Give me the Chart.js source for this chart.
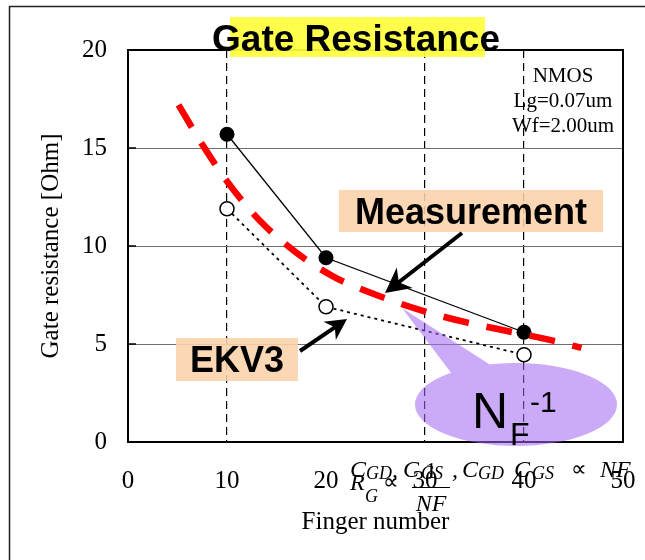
<!DOCTYPE html>
<html>
<head>
<meta charset="utf-8">
<script src="https://cdn.jsdelivr.net/npm/chart.js@4.4.0/dist/chart.umd.min.js"></script>
<style>
  html, body { margin: 0; padding: 0; background: #fff; }
  #wrap { width: 645px; height: 560px; }
</style>
</head>
<body>
<div id="wrap"><canvas id="grafico" width="645" height="560"></canvas></div>
<script>
// datos
const dedos = [10, 20, 40];
const medicion = [15.7, 9.4, 5.6];
const ekv3 = [11.9, 6.9, 4.45];
const curvaX = [5.1, 7.6, 10.3, 13.3, 16.9, 20.9, 25.1, 29.7, 34.2, 38.9, 43.5, 45.8];
const curvaY = [17.2, 15.1, 13.1, 11.3, 9.7, 8.4, 7.5, 6.7, 6.1, 5.6, 5.1, 4.8];
const ticksX = [0, 10, 20, 30, 40, 50];
const ticksY = [0, 5, 10, 15, 20];

const SERIF = '"Liberation Serif", "Times New Roman", serif';
const SANS = '"Liberation Sans", Arial, sans-serif';

function flecha(ctx, x1, y1, x2, y2, grosor, largo, ancho) {
  const a = Math.atan2(y2 - y1, x2 - x1);
  const ux = Math.cos(a), uy = Math.sin(a);
  const nx = -uy, ny = ux;
  ctx.strokeStyle = "#000";
  ctx.fillStyle = "#000";
  ctx.lineWidth = grosor;
  ctx.beginPath();
  ctx.moveTo(x1, y1);
  ctx.lineTo(x2 - ux * largo * 0.6, y2 - uy * largo * 0.6);
  ctx.stroke();
  ctx.beginPath();
  ctx.moveTo(x2, y2);
  ctx.lineTo(x2 - ux * largo + nx * ancho, y2 - uy * largo + ny * ancho);
  ctx.lineTo(x2 - ux * largo * 0.7, y2 - uy * largo * 0.7);
  ctx.lineTo(x2 - ux * largo - nx * ancho, y2 - uy * largo - ny * ancho);
  ctx.closePath();
  ctx.fill();
}

function texto(ctx, t, x, y, fuente, align) {
  ctx.font = fuente;
  ctx.textAlign = align || "left";
  ctx.textBaseline = "alphabetic";
  ctx.fillStyle = "#000";
  ctx.fillText(t, x, y);
}

const decoracion = {
  id: "decoracion",
  afterDraw(chart) {
    const ctx = chart.ctx;
    const area = chart.chartArea;
    const sy = chart.scales.y;
    ctx.save();

    // marco exterior
    ctx.strokeStyle = "#222";
    ctx.lineWidth = 1.5;
    ctx.beginPath();
    ctx.moveTo(9.5, 560);
    ctx.lineTo(9.5, 6.5);
    ctx.lineTo(645, 6.5);
    ctx.stroke();

    // borde del area
    ctx.strokeStyle = "#000";
    ctx.lineWidth = 2;
    ctx.strokeRect(area.left, area.top, area.right - area.left, area.bottom - area.top);
    ctx.lineWidth = 1.5;
    ticksY.forEach(v => {
      const y = sy.getPixelForValue(v);
      ctx.beginPath();
      ctx.moveTo(area.left, y);
      ctx.lineTo(area.left + 8, y);
      ctx.stroke();
    });

    // titulo
    ctx.fillStyle = "rgba(255, 255, 60, 0.92)";
    ctx.fillRect(230, 17, 255, 40);
    texto(ctx, "Gate Resistance", 356, 51, "bold 37px " + SANS, "center");

    // condiciones
    texto(ctx, "NMOS", 563, 82, "21px " + SERIF, "center");
    texto(ctx, "Lg=0.07um", 563, 107, "21px " + SERIF, "center");
    texto(ctx, "Wf=2.00um", 563, 132, "21px " + SERIF, "center");

    // etiqueta Measurement
    ctx.fillStyle = "rgba(251, 210, 168, 0.88)";
    ctx.fillRect(339, 190, 264, 42);
    texto(ctx, "Measurement", 471, 224, "bold 36px " + SANS, "center");
    flecha(ctx, 462, 233, 385, 293, 4, 25, 13);

    // etiqueta EKV3
    ctx.fillStyle = "rgba(251, 210, 168, 0.88)";
    ctx.fillRect(176, 338, 122, 43);
    texto(ctx, "EKV3", 237, 372, "bold 36px " + SANS, "center");
    flecha(ctx, 300, 351, 347, 319, 4, 21, 11);

    // globo NF^-1
    ctx.fillStyle = "rgba(160, 100, 240, 0.55)";
    ctx.beginPath();
    ctx.ellipse(516, 404.5, 101, 41.5, 0, 0, Math.PI * 2);
    ctx.moveTo(402, 308);
    ctx.lineTo(492, 366);
    ctx.lineTo(452, 374);
    ctx.closePath();
    ctx.fill("nonzero");
    texto(ctx, "N", 472, 428, "50px " + SANS);
    texto(ctx, "F", 510, 445, "32px " + SANS);
    texto(ctx, "-1", 530, 412, "30px " + SANS);

    // ecuaciones superpuestas
    const it = "italic 24px " + SERIF;
    const sub = "italic 18px " + SERIF;
    texto(ctx, "C", 350, 477, it);
    texto(ctx, "GD", 366, 479, sub);
    texto(ctx, ",", 392, 477, it);
    texto(ctx, "C", 403, 477, it);
    texto(ctx, "GS", 421, 479, sub);
    texto(ctx, ",", 452, 477, it);
    texto(ctx, "C", 462, 477, it);
    texto(ctx, "GD", 478, 479, sub);
    texto(ctx, "C", 514, 477, it);
    texto(ctx, "GS", 532, 479, sub);
    texto(ctx, "\u221D", 571, 476, "22px " + SERIF);
    texto(ctx, "NF", 600, 477, it);

    texto(ctx, "R", 350, 490, it);
    texto(ctx, "G", 365, 502, sub);
    texto(ctx, "\u221D", 383, 489, "22px " + SERIF);
    texto(ctx, "1", 431, 478, "24px " + SERIF, "center");
    ctx.strokeStyle = "#000";
    ctx.lineWidth = 1;
    ctx.beginPath();
    ctx.moveTo(412, 487.5);
    ctx.lineTo(450, 487.5);
    ctx.stroke();
    texto(ctx, "NF", 431, 511, it, "center");

    ctx.restore();
  }
};

const sinBordes = v => (v === 0 || v === 50 || v === 20);

new Chart(document.getElementById("grafico"), {
  type: "scatter",
  data: {
    datasets: [
      {
        label: "NF-1",
        data: curvaX.map((x, i) => ({ x: x, y: curvaY[i] })),
        showLine: true,
        borderColor: "#ff0000",
        borderWidth: 6.5,
        borderDash: [26, 18],
        borderCapStyle: "butt",
        pointRadius: 0,
        tension: 0.4,
        cubicInterpolationMode: "monotone",
        fill: false
      },
      {
        label: "Measurement",
        data: dedos.map((x, i) => ({ x: x, y: medicion[i] })),
        showLine: true,
        borderColor: "#000",
        borderWidth: 1.3,
        pointRadius: 7.5,
        pointBackgroundColor: "#000",
        pointBorderColor: "#000",
        pointBorderWidth: 0,
        fill: false
      },
      {
        label: "EKV3",
        data: dedos.map((x, i) => ({ x: x, y: ekv3[i] })),
        showLine: true,
        borderColor: "#000",
        borderWidth: 1.8,
        borderDash: [3, 4],
        pointRadius: 7,
        pointBackgroundColor: "#fff",
        pointBorderColor: "#000",
        pointBorderWidth: 1.5,
        fill: false
      }
    ]
  },
  options: {
    responsive: false,
    animation: false,
    devicePixelRatio: 1,
    layout: { padding: { top: 50, right: 22, left: 0, bottom: 0 } },
    plugins: {
      legend: { display: false },
      tooltip: { enabled: false },
      title: { display: false }
    },
    scales: {
      x: {
        type: "linear",
        min: 0,
        max: 50,
        afterBuildTicks: s => { s.ticks = ticksX.map(v => ({ value: v })); },
        afterFit: s => { s.height = 118; s.paddingLeft = 0; s.paddingRight = 0; },
        ticks: {
          color: "#000",
          padding: 24,
          font: { family: SERIF, size: 25 }
        },
        grid: {
          color: c => (c.tick && sinBordes(c.tick.value)) ? "rgba(0,0,0,0)" : "#000",
          lineWidth: 1.2,
          drawTicks: false
        },
        border: { display: false, dash: [8, 5] },
        title: {
          display: true,
          text: "Finger number",
          color: "#000",
          font: { family: SERIF, size: 25 },
          padding: { top: 23, bottom: 23 }
        }
      },
      y: {
        min: 0,
        max: 20,
        afterBuildTicks: s => { s.ticks = ticksY.map(v => ({ value: v })); },
        afterFit: s => { s.width = 128; s.paddingTop = 0; s.paddingBottom = 0; },
        ticks: {
          color: "#000",
          padding: 21,
          font: { family: SERIF, size: 25 }
        },
        grid: {
          color: c => (c.tick && sinBordes(c.tick.value)) ? "rgba(0,0,0,0)" : "#707070",
          lineWidth: 1,
          drawTicks: false
        },
        border: { display: false },
        title: {
          display: true,
          text: "Gate resistance [Ohm]",
          color: "#000",
          font: { family: SERIF, size: 25 },
          padding: { top: 36, bottom: 36 }
        }
      }
    }
  },
  plugins: [decoracion]
});
</script>
</body>
</html>
